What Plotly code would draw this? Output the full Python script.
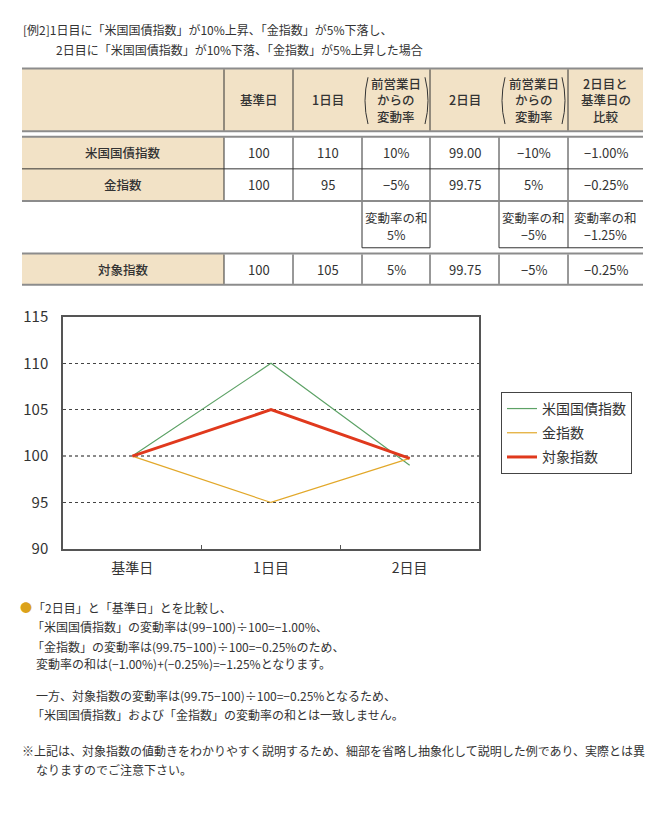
import plotly.graph_objects as go

# ---- data ----
days = ["基準日", "1日目", "2日目"]
bond_index = [100, 110, 99.00]
gold_index = [100, 95, 99.75]
target_index = [100, 105, 99.75]
series_names = ["米国国債指数", "金指数", "対象指数"]

y_ticks = [90, 95, 100, 105, 110, 115]
base_value = 100

header_cols = ["基準日", "1日目", "前営業日<br>からの<br>変動率", "2日目",
               "前営業日<br>からの<br>変動率", "2日目と<br>基準日の<br>比較"]
row_labels = ["米国国債指数", "金指数", "対象指数"]
bond_cells = ["100", "110", "10%", "99.00", "−10%", "−1.00%"]
gold_cells = ["100", "95", "−5%", "99.75", "5%", "−0.25%"]
sum_cells = ["", "", "変動率の和<br>5%", "", "変動率の和<br>−5%", "変動率の和<br>−1.25%"]
target_cells = ["100", "105", "5%", "99.75", "−5%", "−0.25%"]

title_lines = ["[例2]1日目に「米国国債指数」が10%上昇、「金指数」が5%下落し、",
               "2日目に「米国国債指数」が10%下落、「金指数」が5%上昇した場合"]
note_lines = ["「2日目」と「基準日」とを比較し、",
              "「米国国債指数」の変動率は(99−100)÷100=−1.00%、",
              "「金指数」の変動率は(99.75−100)÷100=−0.25%のため、",
              "変動率の和は(−1.00%)+(−0.25%)=−1.25%となります。",
              "一方、対象指数の変動率は(99.75−100)÷100=−0.25%となるため、",
              "「米国国債指数」および「金指数」の変動率の和とは一致しません。",
              "※上記は、対象指数の値動きをわかりやすく説明するため、細部を省略し抽象化して説明した例であり、実際とは異",
              "なりますのでご注意下さい。"]

W, H = 668, 816
FONT = "Noto Sans CJK JP, Noto Sans, sans-serif"
TXT = "#333333"
BEIGE = "#F2E2C6"
GRAY = "#8c8c8c"
DARK = "#333333"


def px(x):
    return x / W


def py(y):
    return 1 - y / H


shapes = []
annotations = []


def rect(x0, y0, x1, y1, fill):
    shapes.append(dict(type="rect", xref="paper", yref="paper", x0=px(x0), x1=px(x1),
                       y0=py(y1), y1=py(y0), fillcolor=fill, line=dict(width=0), layer="below"))


def hline(x0, x1, y, color=GRAY, width=2):
    shapes.append(dict(type="line", xref="paper", yref="paper", x0=px(x0), x1=px(x1),
                       y0=py(y), y1=py(y), line=dict(color=color, width=width)))


def vline(x, y0, y1, color=DARK, width=1):
    shapes.append(dict(type="line", xref="paper", yref="paper", x0=px(x), x1=px(x),
                       y0=py(y0), y1=py(y1), line=dict(color=color, width=width)))


def text(x, y, s, size=12, anchor="center", weight="normal", color=TXT):
    annotations.append(dict(xref="paper", yref="paper", x=px(x), y=py(y), text=s,
                            showarrow=False, xanchor=anchor, yanchor="middle", borderpad=0,
                            align=anchor if anchor != "center" else "center",
                            font=dict(family=FONT, size=size, color=color, weight=weight)))


def cell_text(x, y, s, size=12.5, weight="normal", gap=17):
    # one annotation per line so the line spacing matches the printed table
    parts = s.split("<br>")
    top = y - gap * (len(parts) - 1) / 2
    for k, part in enumerate(parts):
        text(x, top + k * gap, part, size=size, weight=weight)


def paren(x, y0, y1, bulge):
    ym = (y0 + y1) / 2
    path = "M {} {} Q {} {} {} {}".format(px(x), py(y0), px(x + bulge), py(ym), px(x), py(y1))
    shapes.append(dict(type="path", xref="paper", yref="paper", path=path,
                       line=dict(color=DARK, width=1)))


# ---- table ----
L, R = 22, 643
col_x = [224, 293, 362, 430, 499, 568]
centers = [258.5, 327.5, 396, 464.5, 533.5, 605.5]

rect(L, 58, R, 122.5, BEIGE)
rect(L, 128, 224, 194, BEIGE)
rect(L, 248, 224, 280, BEIGE)

for y in [58, 122.5, 128, 194, 248, 280]:
    hline(L, R, y)
hline(L, R, 161, DARK, 1)

for x in [224, 293, 430, 568]:
    vline(x, 59, 121.5)
for x in col_x:
    vline(x, 129, 193)
    vline(x, 249, 279)
# boxes round the sums of change rates
for x in [362, 430, 499, 568]:
    vline(x, 195, 242)
hline(362, 430, 242, DARK, 1)
hline(499, R, 242, DARK, 1)

# parentheses round the change-rate headers
for x0, x1 in [(368, 425), (505, 562)]:
    paren(x0, 67, 115, -6)
    paren(x1, 67, 115, 6)

for i, s in enumerate(header_cols):
    cell_text(centers[i], 90, s, size=12.5, weight=500)

row_y = [144.5, 177.5, 264]
for s, y in zip(row_labels, row_y):
    text(123, y, s, size=12.5, weight=500)
for cells, y in zip([bond_cells, gold_cells, target_cells], row_y):
    for i, s in enumerate(cells):
        text(centers[i], y, s, size=13)
for i, s in enumerate(sum_cells):
    if s:
        cell_text(centers[i], 219.5, s, size=12.5, gap=17)

# ---- titles and notes ----
text(22, 18, title_lines[0], size=12, anchor="left")
text(55, 38, title_lines[1], size=12, anchor="left")

text(19, 611, "●", size=12, anchor="left", color="#DBA21A")
note_y = [611, 631, 651, 669, 702, 721, 758, 777]
note_x = [32, 31, 31, 35, 35, 31, 21, 35]
for s, x, y in zip(note_lines, note_x, note_y):
    text(x, y, s, size=12, anchor="left")

# base-value line (100) is gray and heavier than the other grid lines
shapes.append(dict(type="line", xref="x domain", yref="y", x0=0, x1=1,
                   y0=base_value, y1=base_value, layer="below",
                   line=dict(color="#8a8a8a", width=2, dash="dot")))
inner_grid = [v for v in y_ticks[1:-1] if v != base_value]

# ---- chart ----
fig = go.Figure()
colors = ["#5DA266", "#E2A82A", "#E0391D"]
widths = [1.2, 1.2, 3]
for name, vals, c, w in zip(series_names, [bond_index, gold_index, target_index], colors, widths):
    fig.add_trace(go.Scatter(x=days, y=vals, name=name, mode="lines",
                             line=dict(color=c, width=w), legendgroup=name))

fig.update_layout(
    width=W, height=H,
    margin=dict(l=0, r=0, t=0, b=0),
    paper_bgcolor="white", plot_bgcolor="white",
    font=dict(family=FONT, color=TXT),
    showlegend=True,
    legend=dict(x=px(501), y=py(390), xanchor="left", yanchor="top",
                bordercolor="#444444", borderwidth=1, bgcolor="white",
                font=dict(family=FONT, size=14, color=TXT),
                tracegroupgap=3, traceorder="grouped"),
    xaxis=dict(domain=[px(63), px(479)], range=[-0.5, 2.5], type="category",
               categoryorder="array", categoryarray=days,
               showline=True, linecolor="#555555", linewidth=1.5, mirror=True,
               showgrid=False, zeroline=False,
               ticks="inside", tickson="boundaries", ticklen=4, tickcolor="#555555",
               tickfont=dict(family=FONT, size=14, color=TXT), ticklabelstandoff=6),
    yaxis=dict(domain=[py(551), py(313)], range=[90, 115], tickvals=y_ticks,
               showline=True, linecolor="#555555", linewidth=1.5, mirror=True,
               showgrid=False, zeroline=False, ticks="",
               minor=dict(tickmode="array", tickvals=inner_grid, showgrid=True,
                          gridcolor="#444444", griddash="dot", gridwidth=1, ticks=""),
               tickfont=dict(family=FONT, size=15, color=TXT), ticklabelstandoff=10),
    shapes=shapes,
    annotations=annotations,
)

fig.write_html("out.html", config={"displayModeBar": False},
               post_script="document.body.style.margin='0';document.body.style.overflow='hidden';")
